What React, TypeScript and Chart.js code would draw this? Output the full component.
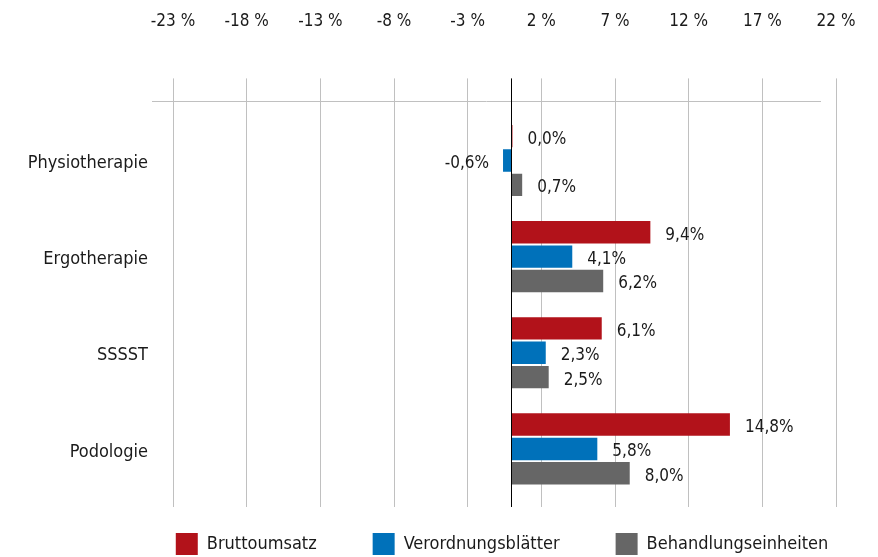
import React, { useEffect, useRef } from 'react';
import { Chart, registerables } from 'chart.js';

Chart.register(...registerables);

const categories = ['Physiotherapie', 'Ergotherapie', 'SSSST', 'Podologie'];
const seriesNames = ['Bruttoumsatz', 'Verordnungsblätter', 'Behandlungseinheiten'];
const bruttoumsatz = [0.04, 9.4, 6.1, 14.8];
const verordnungsblaetter = [-0.6, 4.1, 2.3, 5.8];
const behandlungseinheiten = [0.7, 6.2, 2.5, 8.0];
const seriesColors = ['#B2121A', '#0071BA', '#666666'];
const xMin = -23;
const xMax = 22;
const xStep = 5;

const FONT = "'DejaVu Sans Condensed', 'DejaVu Sans', sans-serif";
const TEXT = '#1a1a1a';
const GRID = '#c0c0c0';

const fmt = (v: number) => v.toFixed(1).replace('.', ',') + '%';
const align = (p: number) => Math.round(p - 0.5) + 0.5;

const decorPlugin = {
  id: 'decor',
  afterLayout(chart: any) {
    const lg = chart.legend;
    if (lg) {
      lg.left += 106;
      lg.right += 20;
      lg.top -= 20;
      lg.bottom -= 20;
    }
  },
  beforeDatasetsDraw(chart: any) {
    const { ctx, chartArea } = chart;
    const xs = chart.scales.x;
    ctx.save();
    ctx.strokeStyle = GRID;
    ctx.lineWidth = 1;
    const yTop = align(chartArea.top - 11);
    ctx.beginPath();
    ctx.moveTo(chartArea.left - 21, yTop);
    ctx.lineTo(chartArea.right - 15, yTop);
    ctx.stroke();
    xs.ticks.forEach((t: any) => {
      const px = align(xs.getPixelForValue(t.value));
      ctx.beginPath();
      ctx.moveTo(px, chartArea.bottom);
      ctx.lineTo(px, chartArea.bottom + 10);
      ctx.stroke();
    });
    ctx.restore();
  },
  afterDatasetsDraw(chart: any) {
    const { ctx, chartArea } = chart;
    const xs = chart.scales.x;
    ctx.save();
    const zx = align(xs.getPixelForValue(0));
    ctx.strokeStyle = '#000000';
    ctx.lineWidth = 1;
    ctx.beginPath();
    ctx.moveTo(zx, chartArea.top - 34);
    ctx.lineTo(zx, chartArea.bottom + 10);
    ctx.stroke();
    ctx.font = `17px ${FONT}`;
    ctx.fillStyle = TEXT;
    ctx.textBaseline = 'middle';
    chart.data.datasets.forEach((ds: any, i: number) => {
      const meta = chart.getDatasetMeta(i);
      meta.data.forEach((el: any, j: number) => {
        const v = ds.data[j] as number;
        if (v < 0) {
          ctx.textAlign = 'right';
          ctx.fillText(fmt(v), Math.min(el.x, el.base) - 14, el.y + 3);
        } else {
          ctx.textAlign = 'left';
          ctx.fillText(fmt(v), Math.max(el.x, el.base) + 15, el.y + 3);
        }
      });
    });
    ctx.restore();
  },
};

export default function App() {
  const ref = useRef<HTMLCanvasElement | null>(null);
  useEffect(() => {
    if (!ref.current) return;
    const chart = new Chart(ref.current, {
      type: 'bar',
      data: {
        labels: categories,
        datasets: [
          { label: seriesNames[0], data: bruttoumsatz, backgroundColor: seriesColors[0], borderWidth: 0 },
          { label: seriesNames[1], data: verordnungsblaetter, backgroundColor: seriesColors[1], borderWidth: 0 },
          { label: seriesNames[2], data: behandlungseinheiten, backgroundColor: seriesColors[2], borderWidth: 0 },
        ],
      },
      options: {
        indexAxis: 'y',
        animation: false,
        responsive: true,
        maintainAspectRatio: false,
        layout: { padding: { left: 0, right: 0, top: -36, bottom: -28 } },
        datasets: { bar: { categoryPercentage: 0.76, barPercentage: 0.92 } },
        scales: {
          x: {
            position: 'top',
            min: xMin,
            max: xMax,
            offset: false,
            ticks: {
              stepSize: xStep,
              autoSkip: false,
              maxRotation: 0,
              padding: 47,
              color: TEXT,
              font: { family: FONT, size: 17 },
              callback: (v: any) => `${v} %`,
            },
            grid: { color: GRID, lineWidth: 1, drawTicks: true, tickLength: 34, tickColor: GRID },
            border: { display: false },
            afterFit: (s: any) => {
              s.paddingLeft = 0;
              s.paddingRight = 42;
            },
          },
          y: {
            ticks: { padding: 25, labelOffset: 3, color: TEXT, font: { family: FONT, size: 18 } },
            grid: { display: false, drawTicks: false },
            border: { display: false },
            afterFit: (s: any) => {
              s.width = 173;
            },
          },
        },
        plugins: {
          legend: {
            position: 'bottom',
            labels: {
              boxWidth: 22,
              boxHeight: 22,
              padding: 56,
              color: TEXT,
              font: { family: FONT, size: 18 },
            },
          },
          tooltip: { enabled: false },
        },
      },
      plugins: [decorPlugin],
    } as any);
    return () => chart.destroy();
  }, []);
  return (
    <div style={{ position: 'fixed', left: 0, top: 0, width: 878, height: 557, background: '#fff' }}>
      <canvas ref={ref} />
    </div>
  );
}
